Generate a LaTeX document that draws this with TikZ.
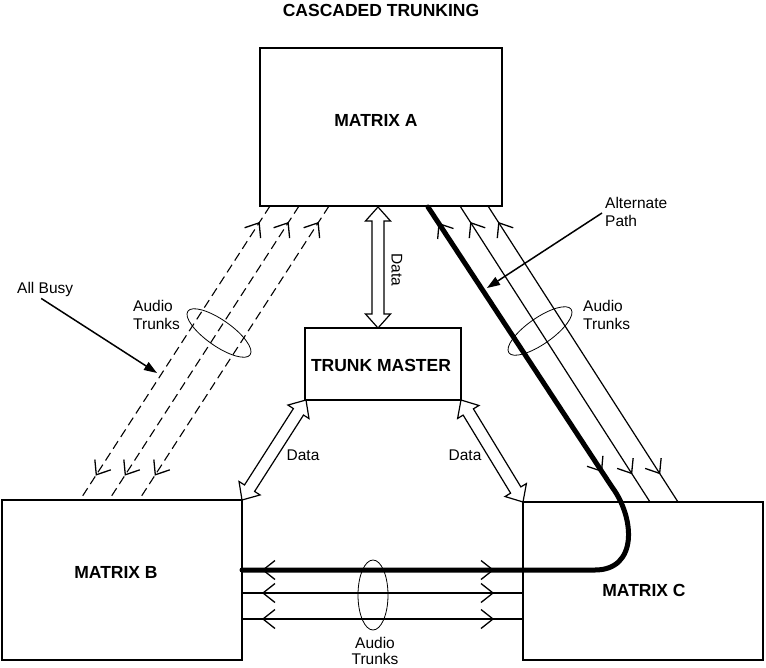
\documentclass[tikz,border=0pt]{standalone}
\usepackage{fontspec}
\setmainfont{Liberation Sans}
\usetikzlibrary{arrows.meta,calc,decorations.markings}
\tikzset{
  boxnode/.style={draw, line width=1.4pt, inner sep=0pt, fill=white},
  boldlabel/.style={font=\fontsize{17.5}{20}\selectfont\bfseries, inner sep=0pt},
  lbl/.style={font=\fontsize{15.5}{18.5}\selectfont, inner sep=0pt},
  barbline/.style={draw, solid, line width=1.3pt, line cap=butt, line join=miter},
  fwdbarb/.style={decoration={markings, mark=at position #1 with {\draw[barbline] (-12pt,9.5pt) -- (0pt,0pt) -- (-12pt,-9.5pt);}}},
  revbarb/.style={decoration={markings, mark=at position #1 with {\draw[barbline] (12pt,9.5pt) -- (0pt,0pt) -- (12pt,-9.5pt);}}},
  twoway/.style 2 args={postaction={decorate, revbarb=#1}, postaction={decorate, fwdbarb=#2}},
  trunk/.style={line width=1.2pt},
  dashtrunk/.style={line width=1.1pt, dash pattern=on 9pt off 5pt},
  thicktrunk/.style={line width=5pt, line cap=round},
  bundle/.style={line width=0.8pt},
  pointer/.style={line width=1.5pt, -{Triangle[length=13pt,width=9pt]}},
  hollowarr/.style={line width=1.2pt, fill=white, line join=miter},
}
\newcommand{\DataArrowX}[2]{%
  \coordinate (da1) at ($(#1)!14pt!(#2)$);
  \coordinate (da2) at ($(#2)!14pt!(#1)$);
  \draw[hollowarr] (#1)
    -- ($(da1)!12.5pt!90:(#2)$) -- ($(da1)!6pt!90:(#2)$)
    -- ($(da2)!6pt!-90:(#1)$) -- ($(da2)!12.5pt!-90:(#1)$)
    -- (#2)
    -- ($(da2)!12.5pt!90:(#1)$) -- ($(da2)!6pt!90:(#1)$)
    -- ($(da1)!6pt!-90:(#2)$) -- ($(da1)!12.5pt!-90:(#2)$)
    -- cycle;}
\begin{document}
\begin{tikzpicture}[x=1pt,y=-1pt]
\useasboundingbox (0,0) rectangle (766,667);

% boxes
\node[boxnode, minimum width=242pt, minimum height=158pt] (A) at (381,127) {};
\node[boxnode, minimum width=156pt, minimum height=72pt] (TM) at (383,364) {};
\node[boxnode, minimum width=240pt, minimum height=160pt] (B) at (122,580) {};
\node[boxnode, minimum width=240pt, minimum height=158pt] (C) at (643,581) {};

\node[boldlabel] (title) at (381,10) {CASCADED TRUNKING};
\node[boldlabel] (tA) at (376,120) {MATRIX A};
\node[boldlabel] (tTM) at (381,365) {TRUNK MASTER};
\node[boldlabel] (tB) at (116,572) {MATRIX B};
\node[boldlabel] (tC) at (644,590) {MATRIX C};

% coordinates on box edges
\coordinate (a1) at (270,206);
\coordinate (a2) at (299,206);
\coordinate (a3) at (329,206);
\coordinate (b1) at (80,500);
\coordinate (b2) at (109,500);
\coordinate (b3) at (139,500);
\coordinate (a4) at (428,207);
\coordinate (a5) at (460,206);
\coordinate (a6) at (488,206);
\coordinate (c5) at (650,502);
\coordinate (c6) at (678,502);
\coordinate (bt) at (242,570);
\coordinate (bm) at (242,593);
\coordinate (bl) at (242,619);
\coordinate (cm) at (523,593);
\coordinate (cl) at (523,619);

% dashed audio trunks A-B
\draw[dashtrunk, twoway={20pt}{-30pt}] (a1) -- (b1);
\draw[dashtrunk, twoway={20pt}{-30pt}] (a2) -- (b2);
\draw[dashtrunk, twoway={20pt}{-30pt}] (a3) -- (b3);

% solid audio trunks A-C
\draw[trunk, twoway={20pt}{-34pt}] (a5) -- (c5);
\draw[trunk, twoway={20pt}{-34pt}] (a6) -- (c6);

% horizontal trunks B-C
\draw[trunk, twoway={21pt}{251pt}] (bm) -- (cm);
\draw[trunk, twoway={21pt}{251pt}] (bl) -- (cl);

% thick alternate path
\draw[thicktrunk, twoway={21pt}{251pt}, twoway={-316pt}{-20pt}]
  (bt) -- (595,570) .. controls (638,570) and (635,518) .. (612,487) -- (a4);

% bundle ellipses
\draw[bundle, shift={(219,333)}, rotate=-35] (0,0) ellipse [x radius=38, y radius=13];
\draw[bundle, shift={(540,331)}, rotate=35] (0,0) ellipse [x radius=38, y radius=13];
\draw[bundle] (373,595) ellipse [x radius=15, y radius=35];

\node[lbl, align=left, anchor=west] (lat) at (133,315) {Audio\\Trunks};
\node[lbl, align=left, anchor=west] (rat) at (583,315) {Audio\\Trunks};
\node[lbl, align=center, anchor=north, font=\fontsize{15.5}{16.5}\selectfont] (bat) at (375,637) {Audio\\Trunks};

% data arrows
\coordinate (d1) at (378,207);
\coordinate (d2) at (378,328);
\coordinate (d3) at (306,400);
\coordinate (d4) at (242,500);
\coordinate (d5) at (461,400);
\coordinate (d6) at (523,502);
\DataArrowX{d1}{d2}
\DataArrowX{d3}{d4}
\DataArrowX{d5}{d6}
\node[lbl, rotate=-90] (dv) at (397,270) {Data};
\node[lbl] (dl) at (303,455) {Data};
\node[lbl] (dr) at (465,455) {Data};

% callouts
\node[lbl, anchor=base west] (busy) at (17,293) {All Busy};
\coordinate (busytip) at (157,373);
\draw[pointer] ($(busy.south)+(-4,2)$) -- (busytip);
\node[lbl, align=left, anchor=west] (alt) at (605,212) {Alternate\\Path};
\coordinate (alttip) at (487,288);
\draw[pointer] ($(alt.west)+(-3,1)$) -- (alttip);
\end{tikzpicture}
\end{document}
